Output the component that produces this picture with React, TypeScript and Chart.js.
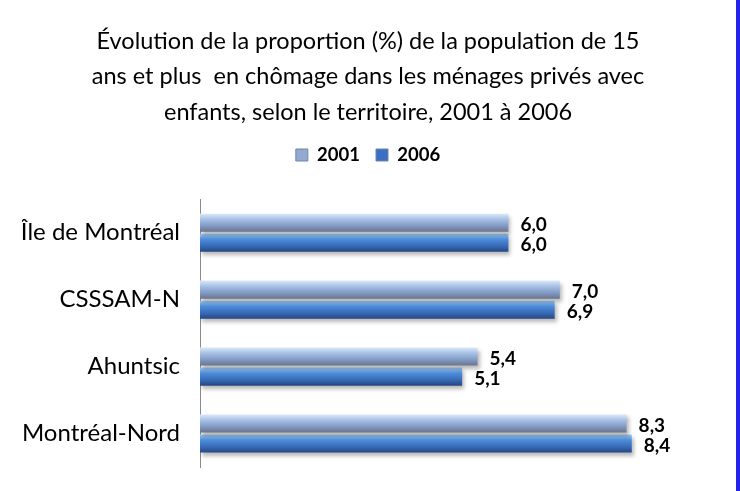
import React, { useEffect, useRef } from "react";
import { Chart, registerables } from "chart.js";

Chart.register(...registerables);

const titleLines = [
  "Évolution de la proportion (%) de la population de 15",
  "ans et plus  en chômage dans les ménages privés avec",
  "enfants, selon le territoire, 2001 à 2006",
];
const categories = ["Île de Montréal", "CSSSAM-N", "Ahuntsic", "Montréal-Nord"];
const seriesNames = ["2001", "2006"];
const values2001 = [6.0, 7.0, 5.4, 8.3];
const values2006 = [6.0, 6.9, 5.1, 8.4];

const FONT = "Lato, 'Open Sans', sans-serif";

const gradientStops: Record<string, string[]> = {
  "2001": ["#dbe9f9", "#a9c2e6", "#7f97c2", "#6c7488"],
  "2006": ["#a5cdf3", "#4d8edb", "#3768b5", "#26467e"],
};
const legendColors: Record<string, string> = { "2001": "#93a9d0", "2006": "#3a6fc4" };

const gradientPlugin = {
  id: "barGradient",
  beforeDatasetsDraw(chart: any) {
    const ctx = chart.ctx;
    chart.data.datasets.forEach((ds: any, di: number) => {
      const meta = chart.getDatasetMeta(di);
      const stops = gradientStops[ds.label];
      meta.data.forEach((el: any) => {
        const { y, height } = el.getProps(["y", "height"], true);
        const top = y - height / 2;
        const g = ctx.createLinearGradient(0, top, 0, top + height);
        g.addColorStop(0, stops[0]);
        g.addColorStop(0.3, stops[1]);
        g.addColorStop(0.7, stops[2]);
        g.addColorStop(1, stops[3]);
        el.options.backgroundColor = g;
      });
    });
    ctx.save();
    ctx.shadowColor = "rgba(0,0,0,0.28)";
    ctx.shadowBlur = 4;
    ctx.shadowOffsetX = 2;
    ctx.shadowOffsetY = 3;
  },
  afterDatasetsDraw(chart: any) {
    const ctx = chart.ctx;
    ctx.restore();
    ctx.save();
    ctx.font = `bold 19px ${FONT}`;
    ctx.fillStyle = "#000";
    ctx.textAlign = "left";
    ctx.textBaseline = "middle";
    chart.data.datasets.forEach((ds: any, di: number) => {
      const meta = chart.getDatasetMeta(di);
      meta.data.forEach((el: any, i: number) => {
        const { x, y } = el.getProps(["x", "y"], true);
        const v = ds.data[i] as number;
        ctx.fillText(v.toFixed(1).replace(".", ","), x + 12, y + 2);
      });
    });
    ctx.restore();
  },
};

export default function App() {
  const ref = useRef<HTMLCanvasElement | null>(null);
  useEffect(() => {
    if (!ref.current) return;
    const chart = new Chart(ref.current, {
      type: "bar",
      data: {
        labels: categories,
        datasets: [
          {
            label: seriesNames[0],
            data: values2001,
            backgroundColor: () => legendColors["2001"],
            borderWidth: 0,
            categoryPercentage: 0.6,
            barPercentage: 0.9,
          },
          {
            label: seriesNames[1],
            data: values2006,
            backgroundColor: () => legendColors["2006"],
            borderWidth: 0,
            categoryPercentage: 0.6,
            barPercentage: 0.9,
          },
        ],
      },
      options: {
        indexAxis: "y",
        responsive: false,
        animation: false,
        layout: { padding: { left: 22, right: 22, top: 0, bottom: 24 } },
        plugins: {
          title: {
            display: true,
            text: titleLines,
            color: "#000",
            font: { family: FONT, size: 23.5, weight: "normal", lineHeight: 1.5 },
            padding: { top: 24, bottom: 0 },
          },
          legend: {
            display: true,
            position: "top",
            labels: {
              color: "#000",
              font: { family: FONT, size: 18.5, weight: "bold" },
              boxWidth: 12,
              boxHeight: 12,
              padding: 16,
              generateLabels: (c: any) =>
                c.data.datasets.map((ds: any, i: number) => ({
                  text: ds.label,
                  fillStyle: legendColors[ds.label],
                  strokeStyle: "#6f85aa",
                  lineWidth: 1,
                  hidden: false,
                  datasetIndex: i,
                  fontColor: "#000",
                })),
            },
          },
          tooltip: { enabled: false },
        },
        scales: {
          x: {
            display: true,
            position: "top",
            min: 0,
            max: 10,
            grid: { display: false, drawTicks: false },
            border: { display: false },
            ticks: { display: false },
            afterFit: (scale: any) => {
              scale.height = 25;
              scale.paddingLeft = 0;
              scale.paddingRight = 0;
            },
          },
          y: {
            grid: { display: false, drawTicks: false },
            border: { display: true, color: "#8a8a8a", width: 1 },
            ticks: {
              color: "#000",
              font: { family: FONT, size: 24 },
              padding: 20,
            },
            afterFit: (scale: any) => {
              scale.width = 178;
              scale.paddingTop = 0;
              scale.paddingBottom = 0;
            },
          },
        },
      },
      plugins: [gradientPlugin],
    });
    return () => chart.destroy();
  }, []);

  return (
    <div
      style={{
        position: "fixed",
        left: 0,
        top: 0,
        width: 740,
        height: 491,
        background: "#fff",
        boxSizing: "border-box",
        borderRight: "4px solid #2323ec",
      }}
    >
      <canvas ref={ref} width={736} height={491} style={{ display: "block" }} />
    </div>
  );
}
